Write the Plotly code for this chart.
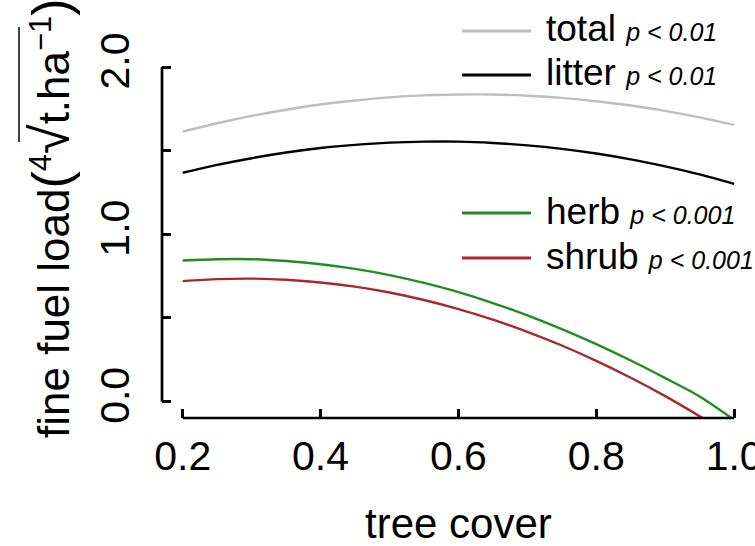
import plotly.graph_objects as go

# ---------------- data ----------------
tree_cover = [0.20, 0.25, 0.30, 0.35, 0.40, 0.45, 0.50, 0.55, 0.60,
              0.65, 0.70, 0.75, 0.80, 0.85, 0.90, 0.95, 1.00]
total = [1.614, 1.664, 1.708, 1.745, 1.776, 1.800, 1.819, 1.831, 1.836,
         1.836, 1.829, 1.816, 1.796, 1.770, 1.738, 1.699, 1.654]
litter = [1.368, 1.415, 1.455, 1.489, 1.516, 1.535, 1.548, 1.554, 1.554,
          1.546, 1.532, 1.511, 1.483, 1.448, 1.406, 1.358, 1.302]
herb = [0.843, 0.851, 0.851, 0.840, 0.821, 0.793, 0.756, 0.709, 0.654,
        0.589, 0.515, 0.433, 0.343, 0.245, 0.140, 0.030, -0.110]
shrub = [0.720, 0.732, 0.735, 0.728, 0.712, 0.687, 0.652, 0.607, 0.553,
         0.490, 0.417, 0.335, 0.243, 0.142, 0.032, -0.088, -0.215]

series_names = ["total", "litter", "herb", "shrub"]
series_values = [total, litter, herb, shrub]
series_colors = ["#BEBEBE", "#000000", "#228B22", "#A52A2A"]
p_labels = ["p &lt; 0.01", "p &lt; 0.01", "p &lt; 0.001", "p &lt; 0.001"]

x_ticks = [0.2, 0.4, 0.6, 0.8, 1.0]
x_ticktext = ["0.2", "0.4", "0.6", "0.8", "1.0"]
y_ticks = [0.0, 0.5, 1.0, 1.5, 2.0]
y_ticktext = ["0.0", " ", "1.0", " ", "2.0"]

# ---------------- layout geometry ----------------
W, H = 755, 546
ML, MR, MT, MB = 162, 0, 0, 128
PW, PH = W - ML - MR, H - MT - MB
FONT = "Liberation Sans, Arial, sans-serif"


def px(xp):
    return (xp - ML) / PW


def py(yp):
    return (H - MB - yp) / PH


fig = go.Figure()
for name, vals, col in zip(series_names, series_values, series_colors):
    fig.add_trace(go.Scatter(x=tree_cover, y=vals, mode="lines", name=name,
                             line=dict(color=col, width=2.4, shape="spline",
                                       smoothing=0.8),
                             showlegend=False, hoverinfo="skip"))

shapes = [
    # axis lines only between extreme ticks (R style)
    dict(type="line", xref="paper", yref="y", x0=0, x1=0, y0=0, y1=2,
         line=dict(color="black", width=2.7)),
    dict(type="line", xref="x", yref="paper", x0=0.2, x1=1.0, y0=0, y1=0,
         line=dict(color="black", width=2.7)),
    # radical vinculum of the y-axis title
    dict(type="line", xref="paper", yref="paper", x0=px(19), x1=px(19),
         y0=py(142), y1=py(27), line=dict(color="black", width=1.5)),
]

annotations = []
legend_y = [31, 75, 213, 258]
for name, col, pl, ly in zip(series_names, series_colors, p_labels, legend_y):
    shapes.append(dict(type="line", xref="paper", yref="paper",
                       x0=px(462), x1=px(531), y0=py(ly), y1=py(ly),
                       line=dict(color=col, width=2.8)))
    annotations.append(dict(
        xref="paper", yref="paper", x=px(544), y=py(ly - 2),
        xanchor="left", yanchor="middle", showarrow=False,
        text=f"{name} <span style='font-size:25px'><i>{pl}</i></span>",
        font=dict(family=FONT, size=37, color="black")))

annotations.append(dict(
    xref="x", yref="paper", x=0.6, y=py(523), xanchor="center",
    yanchor="middle", showarrow=False, text="tree cover",
    font=dict(family=FONT, size=42, color="black")))

annotations.append(dict(
    xref="paper", yref="paper", x=px(50), y=py(219), xanchor="center",
    yanchor="middle", showarrow=False, textangle=-90,
    text=("fine fuel load<span style='font-size:52px'>(</span>"
          "<sup>4</sup><span style='font-size:54px'>√</span>t.ha<sup>−1</sup>"
          "<span style='font-size:52px'>)</span>"),
    font=dict(family=FONT, size=44, color="black")))

fig.update_layout(
    width=W, height=H, autosize=False,
    margin=dict(l=ML, r=MR, t=MT, b=MB, pad=0, autoexpand=False),
    paper_bgcolor="white", plot_bgcolor="white",
    shapes=shapes, annotations=annotations,
    xaxis=dict(range=[0.2 - 20.7 / 689.3, 0.2 + (W - 182.7) / 689.3],
               tickvals=x_ticks, ticktext=x_ticktext, automargin=False,
               ticks="inside", ticklen=9, tickwidth=2.5, tickcolor="black",
               showline=False, showgrid=False, zeroline=False,
               ticklabelstandoff=10, ticklabeloverflow="allow",
               tickfont=dict(family=FONT, size=41, color="black")),
    yaxis=dict(range=[(401.5 - 418) / 167.2, 401.5 / 167.2],
               tickvals=y_ticks, ticktext=y_ticktext, tickangle=-90,
               automargin=False,
               ticks="inside", ticklen=9, tickwidth=2.5, tickcolor="black",
               showline=False, showgrid=False, zeroline=False,
               ticklabelstandoff=24, ticklabeloverflow="allow",
               tickfont=dict(family=FONT, size=41, color="black")),
)

fig.write_html("out.html")
